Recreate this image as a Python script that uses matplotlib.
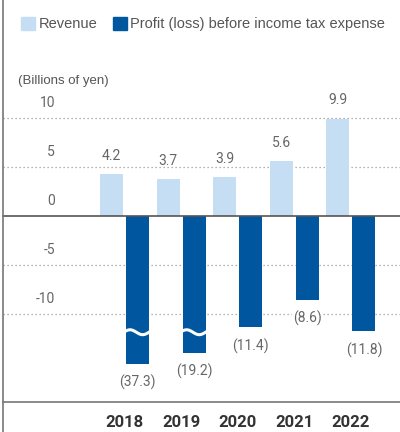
import numpy as np
import matplotlib.pyplot as plt
from matplotlib.patches import Rectangle

# data (billions of yen)
years = ['2018', '2019', '2020', '2021', '2022']
revenue = [4.2, 3.7, 3.9, 5.6, 9.9]
profit = [-37.3, -19.2, -11.4, -8.6, -11.8]
# bar heights as drawn (2018 / 2019 are cut with a wave)
profit_drawn = [-15.1, -14.0, -11.4, -8.6, -11.8]
broken = [True, True, False, False, False]
yticks = [10, 5, 0, -5, -10]

light = '#c6def3'
dark = '#00569f'
grey = '#666666'

fig = plt.figure(figsize=(4, 4.32), dpi=100)
ax = fig.add_axes([0, 0, 1, 1])
ax.set_xlim(-2.2, 4.867)
ax.set_ylim(-22.08, 22.0)
ax.axis('off')

x = np.arange(len(years))
w = 0.406
off = 0.23

# grid
for v in yticks:
    if v == 0:
        continue
    ax.axhline(v, xmin=3 / 400, color='#999999', lw=0.9, ls=(0, (1, 2.2)), zorder=1)

ax.bar(x - off, revenue, w, color=light, zorder=2)
ax.bar(x + off, profit_drawn, w, color=dark, zorder=2)

ax.axhline(0, xmin=3 / 400, color='#555555', lw=1.2, zorder=3)
ax.axhline(-19.02, xmin=3 / 400, color='#777777', lw=1.2, zorder=3)
ax.axvline(-2.147, color='#777777', lw=1.2, zorder=3)

# wave breaks
for i, b in enumerate(broken):
    if b:
        t = np.linspace(0, 1, 50)
        xs = x[i] + off - w / 2 - 0.02 + t * (w + 0.04)
        ys = -11.9 + 0.25 * np.sin(2 * np.pi * t + 0.3)
        ax.plot(xs, ys, color='white', lw=2.2, zorder=4, solid_capstyle='butt')

num_font = 'Roboto'
for i in range(len(years)):
    ax.text(x[i] - off, revenue[i] + 1.85, f'{revenue[i]:.1f}', ha='center', va='center',
            fontsize=10, color=grey, family=num_font, zorder=5)
    ax.text(x[i] + off, profit_drawn[i] - 1.9, f'({abs(profit[i]):.1f})', ha='center', va='center',
            fontsize=10, color=grey, family=num_font, zorder=5,
            bbox=dict(facecolor='white', edgecolor='none', pad=1))
    ax.text(x[i], -21.1, years[i], ha='center', va='center', fontsize=12, fontweight='bold',
            color='#333333', family=num_font)

for v in yticks:
    ax.text(-1.228, v + 1.5, str(v), ha='right', va='center', fontsize=10, color=grey, family=num_font)

ax.text(-1.882, 13.73, '(Billions of yen)', ha='left', va='center', fontsize=9.5,
        color='#555555', family='Liberation Sans')

# legend
fig.patches.append(Rectangle((21 / 400, 1 - 30 / 432), 14 / 400, 13 / 432, transform=fig.transFigure,
                             color=light))
fig.text(39 / 400, 1 - 24 / 432, 'Revenue', ha='left', va='center', fontsize=10.5, color='#555555',
         family='Liberation Sans')
fig.patches.append(Rectangle((113 / 400, 1 - 30 / 432), 14 / 400, 13 / 432, transform=fig.transFigure,
                             color=dark))
fig.text(130 / 400, 1 - 24 / 432, 'Profit (loss) before income tax expense', ha='left', va='center',
         fontsize=10.5, color='#555555', family='Liberation Sans')

fig.savefig('out.png', dpi=100)
